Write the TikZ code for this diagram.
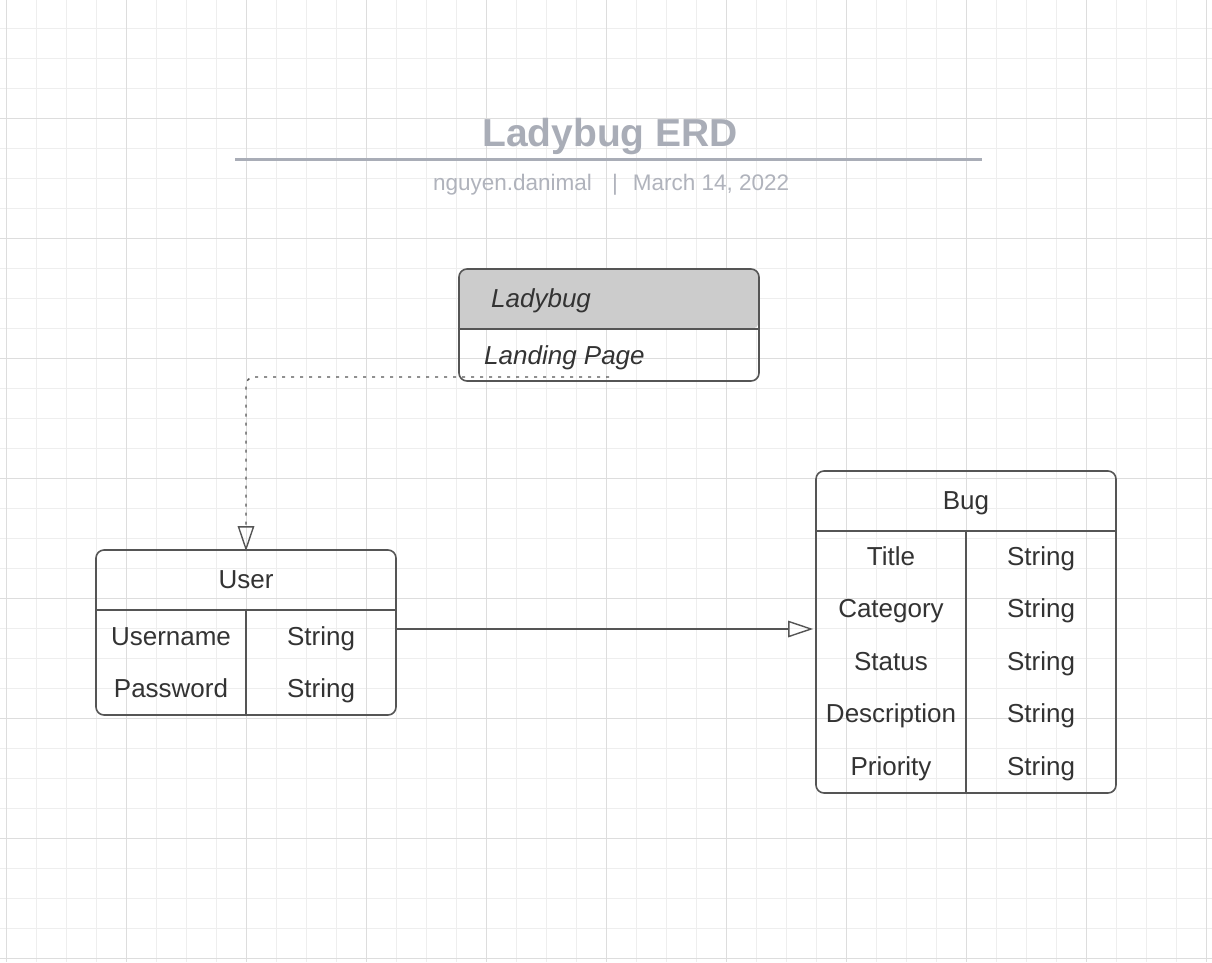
\documentclass[tikz,border=0pt]{standalone}
\usepackage{fontspec}
\setmainfont{Liberation Sans}
\usetikzlibrary{arrows.meta}
\definecolor{gridminor}{HTML}{EEEEEE}
\definecolor{gridmajor}{HTML}{DDDDDD}
\definecolor{boxline}{HTML}{555555}
\definecolor{txt}{HTML}{333333}
\definecolor{titlegray}{HTML}{A9ADB7}
\definecolor{subgray}{HTML}{B0B3BC}
\definecolor{headfill}{HTML}{CCCCCC}
\tikzset{
  body/.style={font=\fontsize{26}{30}\selectfont, text=txt, inner sep=0pt, anchor=base},
  sub/.style={font=\fontsize{22.5}{26}\selectfont, text=subgray, inner sep=0pt, anchor=base},
  entity/.style={draw=boxline, line width=1.6pt, rounded corners=8pt, inner sep=0pt},
  sep/.style={draw=boxline, line width=1.6pt},
  conn/.style={draw=boxline, line width=1.4pt, -{Triangle[open, length=25pt, width=16.5pt]}},
}
\begin{document}
\begin{tikzpicture}[x=1pt, y=-1pt]
\useasboundingbox (0,0) rectangle (1212,962);
\fill[white] (0,0) rectangle (1212,962);
% grid
\foreach \i in {0,...,40} {
  \pgfmathsetmacro{\gx}{6.5+30*\i}
  \draw[gridminor, line width=1pt] (\gx,0) -- (\gx,962);
}
\foreach \j in {0,...,32} {
  \pgfmathsetmacro{\gy}{28+30*\j}
  \draw[gridminor, line width=1pt] (0,\gy) -- (1212,\gy);
}
\foreach \i in {0,...,10} {
  \pgfmathsetmacro{\gx}{6.5+120*\i}
  \draw[gridmajor, line width=1pt] (\gx,0) -- (\gx,962);
}
\foreach \j in {0,...,7} {
  \pgfmathsetmacro{\gy}{118+120*\j}
  \draw[gridmajor, line width=1pt] (0,\gy) -- (1212,\gy);
}
% title
\node[font=\fontsize{39}{44}\selectfont\bfseries, text=titlegray, inner sep=0pt, anchor=base] (title) at (610,146) {Ladybug ERD};
\draw[titlegray, line width=3pt] (235,159.5) -- (982,159.5);
\node[sub] (author) at (512.5,190) {nguyen.danimal};
\node[sub] (bar) at (615,190) {|};
\node[sub] (date) at (711,190) {March 14, 2022};

% Ladybug box
\fill[headfill, rounded corners=8pt] (459,329) -- (459,269) -- (759,269) -- (759,329) [sharp corners] -- cycle;
\node[entity, minimum width=300pt, minimum height=112pt] (ladybug) at (609,325) {};
\draw[sep] (459,329) -- (759,329);
\node[body, anchor=base west, font=\fontsize{26}{30}\selectfont\itshape] (lbtitle) at (491,307) {Ladybug};
\node[body, anchor=base west, font=\fontsize{26}{30}\selectfont\itshape] (lbpage) at (484,364) {Landing Page};
\coordinate (dstart) at (609,377);

% User box
\node[entity, minimum width=300pt, minimum height=165pt] (user) at (246,632.5) {};
\draw[sep] (96,610) -- (396,610);
\draw[sep] (246,610) -- (246,715);
\node[body] (utitle) at (246,588) {User};
\node[body] (u1) at (171,645) {Username};
\node[body] (u1t) at (321,645) {String};
\node[body] (u2) at (171,697) {Password};
\node[body] (u2t) at (321,697) {String};

% Bug box
\node[entity, minimum width=300pt, minimum height=322pt] (bug) at (966,632) {};
\draw[sep] (816,531) -- (1116,531);
\draw[sep] (966,531) -- (966,793);
\node[body] (btitle) at (966,509) {Bug};
\node[body] (b1) at (891,565) {Title};
\node[body] (b1t) at (1041,565) {String};
\node[body] (b2) at (891,617) {Category};
\node[body] (b2t) at (1041,617) {String};
\node[body] (b3) at (891,670) {Status};
\node[body] (b3t) at (1041,670) {String};
\node[body] (b4) at (891,722) {Description};
\node[body] (b4t) at (1041,722) {String};
\node[body] (b5) at (891,775) {Priority};
\node[body] (b5t) at (1041,775) {String};

% connectors
\draw[conn, dash pattern=on 3pt off 6pt] (dstart) [rounded corners=8pt] -| ([yshift=-2pt]user.north) [sharp corners];
\draw[conn] ([yshift=3.5pt]user.east) -- ([yshift=3pt,xshift=-2pt]bug.west);
\end{tikzpicture}
\end{document}
